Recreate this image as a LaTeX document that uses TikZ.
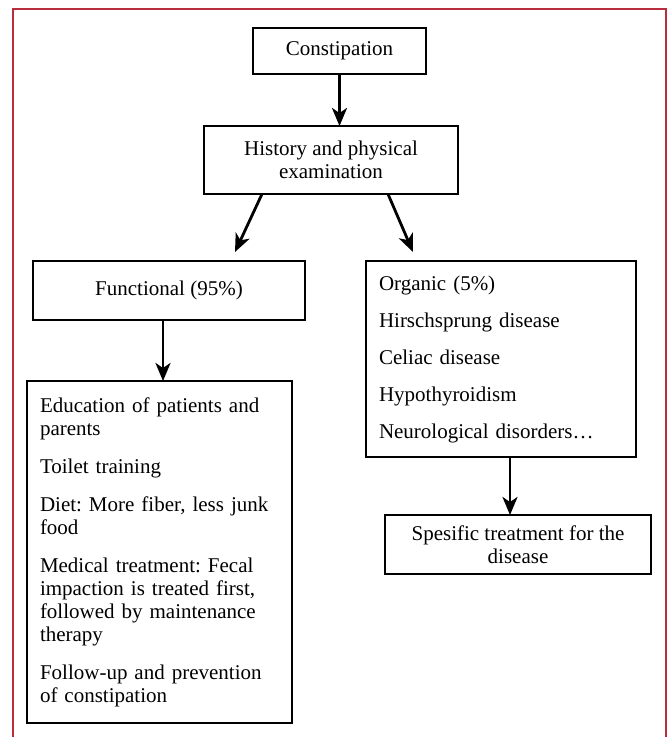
\documentclass[tikz,border=0pt]{standalone}
\usepackage{fontspec}
\setmainfont{Liberation Serif}
\usepackage{tikz}
\usetikzlibrary{shapes}
\usetikzlibrary{positioning}
\usetikzlibrary{arrows.meta}
\frenchspacing
\definecolor{framered}{RGB}{185,45,60}
\tikzstyle{box}=[draw,rectangle,line width=1.7pt,align=center,inner sep=0pt,outer sep=0pt]
\tikzstyle{listbox}=[box,align=left,inner xsep=13pt]

\begin{document}
\begin{tikzpicture}
	[x=1pt,y=1pt,font=\fontsize{21}{23}\selectfont]
	\tikzstyle{arrow}=[-{Stealth[length=18pt,width=15pt,inset=5pt]},line width=2.8pt];
	\useasboundingbox (0,0) rectangle (668,-737);
	\draw[framered,line width=1.5pt] (13,-737) -- (13,-9) -- (666,-9) -- (666,-737);
	\node (1) [box,minimum width=173pt,minimum height=46pt] at (339.5,-51) {Constipation};
	\node (2) [box,minimum width=254pt,minimum height=68pt,below=52pt of 1,xshift=-8.5pt] {History and physical\\examination};
	\node (3) [box,minimum width=272pt,minimum height=59pt,below=67pt of 2,xshift=-162pt] {Functional (95\%)};
	\node (4) [listbox,text width=244pt,minimum height=196pt,below=67pt of 2,xshift=170pt]
		{Organic (5\%)\\[14pt]Hirschsprung disease\\[14pt]Celiac disease\\[14pt]Hypothyroidism\\[14pt]Neurological disorders…};
	\node (5) [listbox,text width=239pt,minimum height=342pt,below=61pt of 3,xshift=-9.5pt]
		{Education of patients and\\parents\\[15pt]Toilet training\\[15pt]Diet: More fiber, less junk\\food\\[15pt]Medical treatment: Fecal\\impaction is treated first,\\followed by maintenance\\therapy\\[15pt]Follow-up and prevention\\of constipation};
	\node (6) [box,minimum width=266pt,minimum height=59pt,below=58pt of 4,xshift=17pt] {Spesific treatment for the\\disease};
	\coordinate (f) at ([xshift=-6pt]3.south);
	\coordinate (o) at ([xshift=9pt]4.south);
	\path[arrow] 
		(1) edge (1 |- 2.north)
		([xshift=-69pt]2.south) edge ([xshift=66pt,yshift=9pt]3.north)
		([xshift=57pt]2.south) edge ([xshift=-88pt,yshift=9pt]4.north)
		(f) edge (f |- 5.north)
		(o) edge (o |- 6.north);
\end{tikzpicture}
\end{document}
